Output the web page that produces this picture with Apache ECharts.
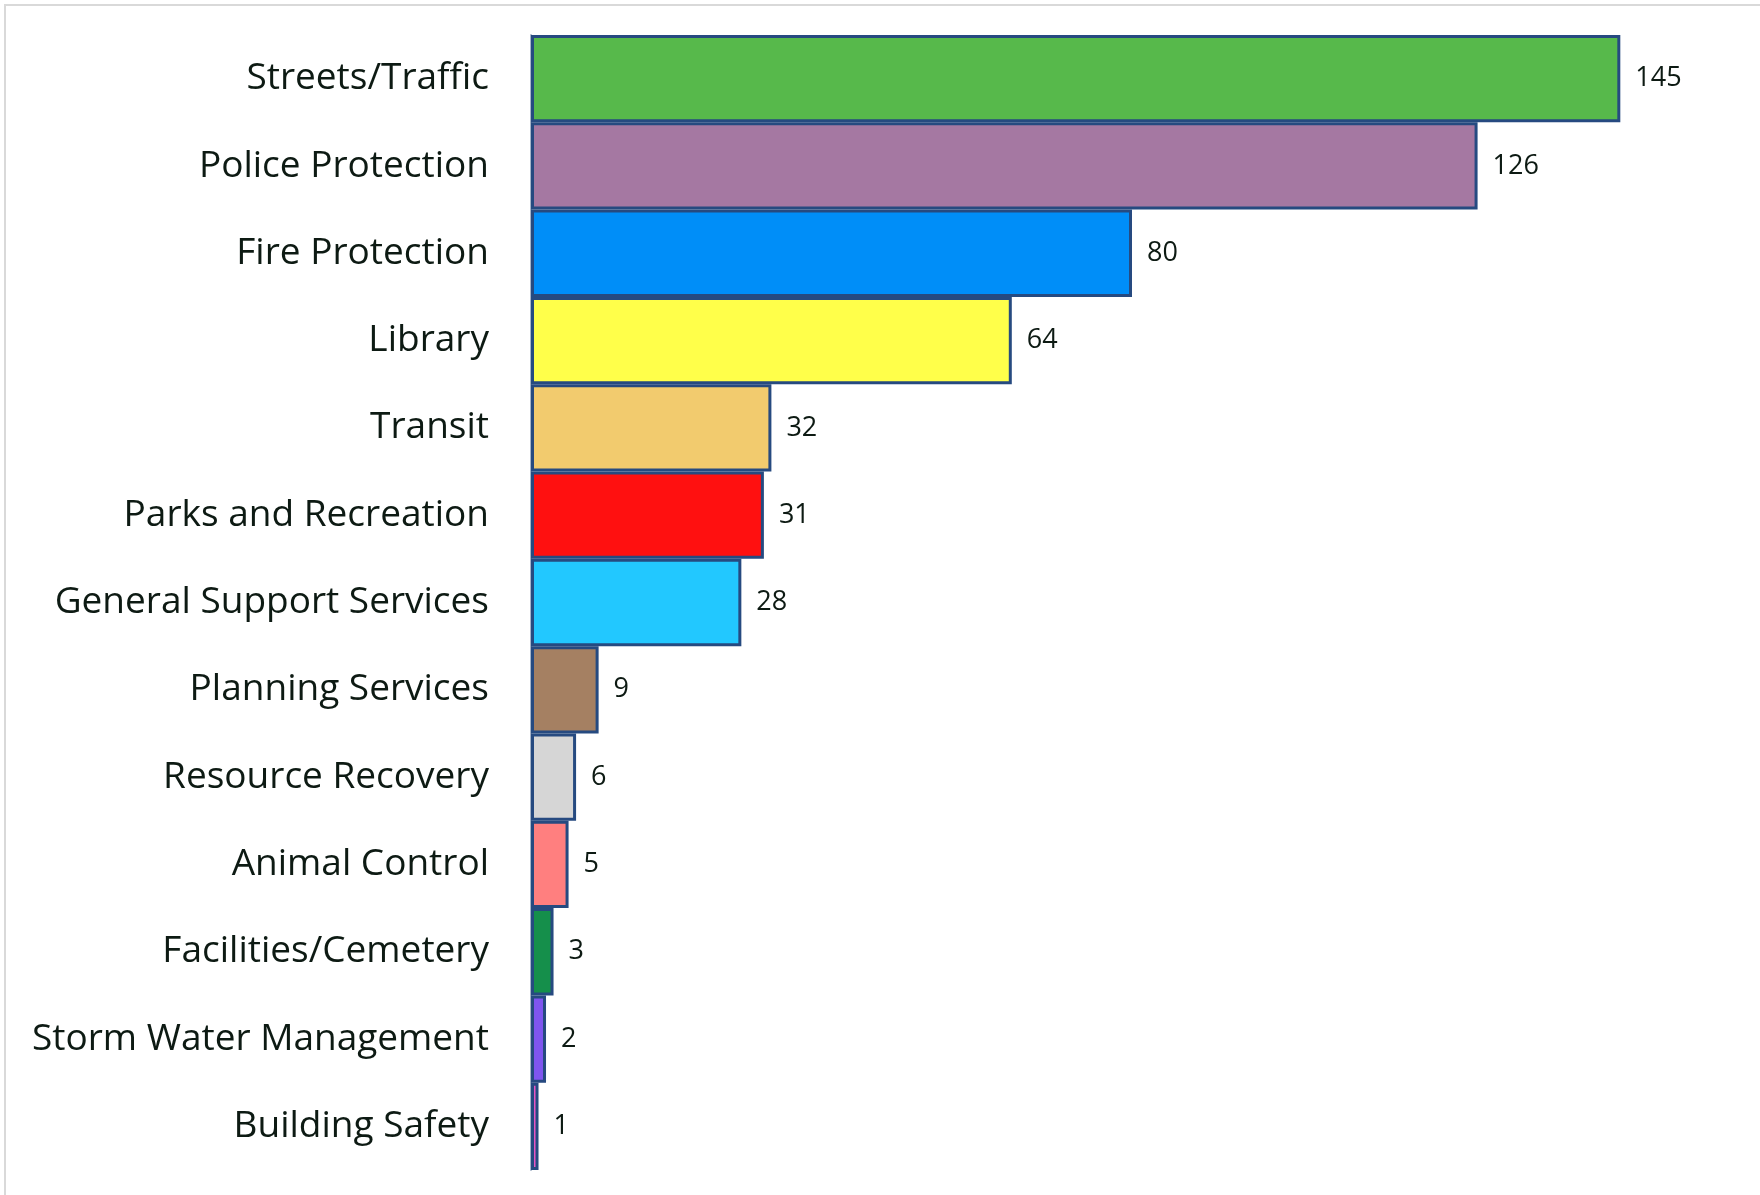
<!DOCTYPE html>
<html>
<head>
<meta charset="utf-8">
<script src="https://cdn.jsdelivr.net/npm/echarts@6/dist/echarts.min.js"></script>
<style>
  html, body { margin: 0; padding: 0; background: #fff; }
  #main { width: 1760px; height: 1195px; }
</style>
</head>
<body>
<div id="main"></div>
<script>
// categories, top to bottom
var categories = [
  'Streets/Traffic', 'Police Protection', 'Fire Protection', 'Library', 'Transit',
  'Parks and Recreation', 'General Support Services', 'Planning Services',
  'Resource Recovery', 'Animal Control', 'Facilities/Cemetery',
  'Storm Water Management', 'Building Safety'
];
var counts = [145, 126, 80, 64, 32, 31, 28, 9, 6, 5, 3, 2, 1];
var barColors = [
  '#57b94b', '#a578a2', '#008ef8', '#ffff4a', '#f2cb6e', '#ff1010', '#22c8ff',
  '#a58062', '#d6d6d6', '#ff7f7f', '#158f4b', '#7f55ef', '#e956c4'
];

var chart = echarts.init(document.getElementById('main'));

var option = {
  backgroundColor: '#fff',
  animation: false,
  graphic: [{
    type: 'rect',
    shape: { x: 5, y: 5, width: 1800, height: 1300 },
    style: { fill: 'none', stroke: '#d9d9d9', lineWidth: 2 }
  }],
  grid: { left: 531, top: 35, bottom: 25, right: 27 },
  xAxis: {
    type: 'value',
    min: 0,
    max: 160,
    show: false
  },
  yAxis: {
    type: 'category',
    inverse: true,
    data: categories,
    axisTick: { show: false },
    axisLine: { show: true, lineStyle: { color: '#a6b4c8', width: 2 } },
    axisLabel: {
      margin: 42,
      fontFamily: 'Open Sans',
      fontSize: 37,
      color: '#0d1a13',
      padding: [6, 0, 0, 0]
    }
  },
  series: [{
    type: 'bar',
    barWidth: '100%',
    barCategoryGap: 0,
    data: counts.map(function (v, i) {
      return { value: v, itemStyle: { color: barColors[i] } };
    }),
    itemStyle: { borderColor: '#264a80', borderWidth: 3 },
    label: {
      show: true,
      position: 'right',
      distance: 15,
      fontFamily: 'Open Sans',
      fontSize: 27,
      color: '#0d1a13',
      padding: [6, 0, 0, 0]
    }
  }]
};

chart.setOption(option);
</script>
</body>
</html>
